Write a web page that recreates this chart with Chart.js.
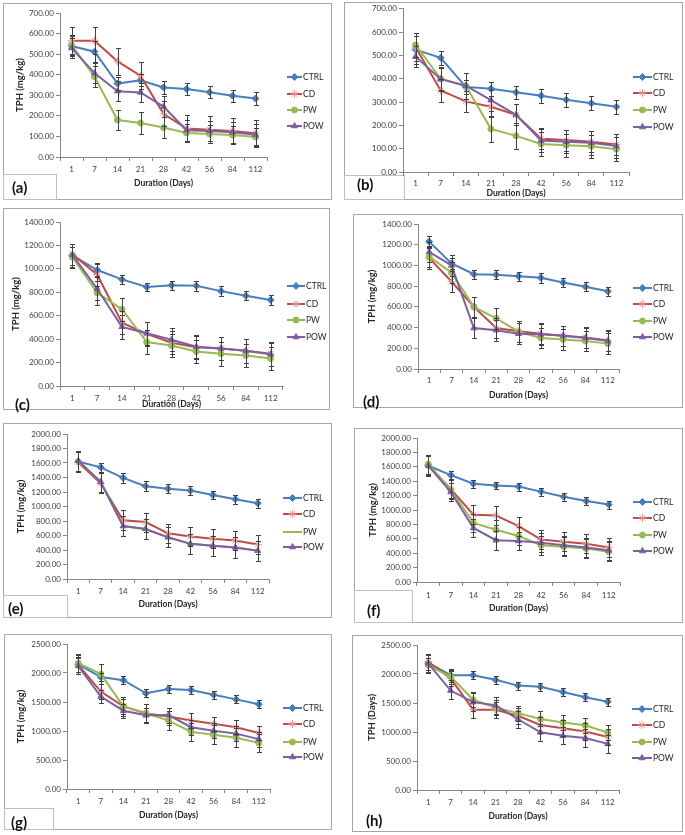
<!DOCTYPE html>
<html>
<head>
<meta charset="utf-8">
<script src="https://cdn.jsdelivr.net/npm/chart.js@4"></script>
<style>
body{margin:0;background:#fff;width:685px;height:835px;position:relative;overflow:hidden;font-family:Lato,"Open Sans",sans-serif;}
.box{position:absolute;border:1px solid #a6a6a6;box-sizing:border-box;}
.tag{position:absolute;border:1px solid #bfbfbf;box-sizing:border-box;}
.lbl{position:absolute;font-size:15px;font-weight:bold;color:#111;line-height:1;transform:translateY(-50%);}
canvas{position:absolute;}
</style>
</head>
<body>
<script>
const days = ["1", "7", "14", "21", "28", "42", "56", "84", "112"];
const seriesNames = ["CTRL", "CD", "PW", "POW"];

// (a)
const aCtrl = [540, 512, 357, 373, 338, 331, 315, 298, 284];
const aCd = [565, 565, 465, 395, 210, 138, 133, 127, 115];
const aPw = [545, 390, 180, 165, 143, 117, 112, 107, 97];
const aPow = [530, 408, 320, 314, 245, 130, 126, 120, 108];
const aCtrlErr = [50, 50, 30, 30, 30, 30, 30, 30, 30];
const aCdErr = [65, 65, 65, 65, 60, 65, 65, 65, 65];
const aPwErr = [50, 50, 50, 52, 50, 45, 45, 45, 45];
const aPowErr = [50, 50, 50, 45, 50, 50, 50, 50, 50];

// (b)
const bCtrl = [525, 490, 365, 357, 342, 327, 310, 295, 280];
const bCd = [535, 350, 303, 280, 245, 143, 137, 130, 118];
const bPw = [545, 400, 370, 185, 155, 120, 115, 110, 98];
const bPow = [495, 398, 370, 308, 245, 135, 130, 125, 112];
const bCtrlErr = [60, 30, 30, 30, 28, 30, 30, 30, 30];
const bCdErr = [60, 50, 45, 45, 45, 45, 45, 45, 45];
const bPwErr = [50, 50, 55, 55, 55, 50, 50, 50, 50];
const bPowErr = [45, 50, 55, 45, 45, 50, 50, 50, 50];

// (c)
const cCtrl = [1115, 990, 910, 845, 860, 855, 810, 770, 735];
const cCd = [1125, 950, 540, 445, 370, 330, 320, 300, 275];
const cPw = [1100, 795, 655, 375, 345, 295, 275, 260, 235];
const cPow = [1120, 830, 505, 450, 395, 335, 320, 300, 270];
const cCtrlErr = [100, 50, 40, 35, 40, 40, 40, 40, 40];
const cCdErr = [90, 100, 100, 100, 100, 100, 100, 100, 100];
const cPwErr = [90, 100, 100, 100, 100, 100, 100, 100, 100];
const cPowErr = [90, 100, 100, 100, 100, 100, 100, 100, 100];

// (d)
const dCtrl = [1230, 1020, 915, 910, 895, 880, 835, 795, 750];
const dCd = [1070, 845, 600, 395, 365, 340, 320, 305, 275];
const dPw = [1085, 930, 600, 490, 360, 300, 285, 270, 245];
const dPow = [1130, 1000, 395, 375, 340, 335, 320, 300, 270];
const dCtrlErr = [50, 50, 45, 45, 45, 45, 45, 45, 45];
const dCdErr = [100, 100, 100, 100, 100, 100, 100, 100, 100];
const dPwErr = [100, 100, 100, 100, 100, 100, 100, 100, 100];
const dPowErr = [100, 100, 100, 100, 100, 100, 100, 100, 100];

// (e) -- PW sits exactly under POW, no markers
const eCtrl = [1620, 1540, 1395, 1280, 1245, 1220, 1160, 1100, 1045];
const eCd = [1610, 1320, 810, 785, 630, 585, 555, 530, 475];
const ePw = [1630, 1340, 730, 690, 575, 485, 460, 435, 390];
const ePow = [1630, 1340, 730, 690, 575, 485, 460, 435, 390];
const eCtrlErr = [150, 65, 65, 65, 65, 60, 60, 65, 65];
const eCdErr = [140, 140, 140, 130, 130, 130, 130, 130, 130];
const ePwErr = [140, 140, 140, 140, 140, 140, 140, 140, 140];
const ePowErr = [140, 140, 140, 140, 140, 140, 140, 140, 140];

// (f)
const fCtrl = [1615, 1485, 1365, 1340, 1325, 1255, 1185, 1125, 1075];
const fCd = [1625, 1290, 935, 925, 775, 590, 560, 530, 480];
const fPw = [1635, 1280, 820, 725, 640, 510, 490, 465, 420];
const fPow = [1615, 1250, 750, 580, 570, 545, 510, 480, 440];
const fCtrlErr = [140, 55, 55, 55, 55, 55, 55, 55, 55];
const fCdErr = [130, 130, 130, 130, 130, 130, 130, 130, 130];
const fPwErr = [130, 130, 130, 130, 130, 130, 130, 130, 130];
const fPowErr = [130, 130, 130, 130, 130, 130, 130, 130, 130];

// (g)
const gCtrl = [2150, 1930, 1875, 1650, 1725, 1705, 1625, 1545, 1460];
const gCd = [2140, 1680, 1425, 1300, 1250, 1180, 1125, 1065, 965];
const gPw = [2170, 1980, 1425, 1310, 1180, 985, 935, 885, 795];
const gPow = [2120, 1595, 1350, 1270, 1275, 1065, 1005, 955, 860];
const gCtrlErr = [160, 70, 70, 70, 75, 70, 70, 70, 70];
const gCdErr = [130, 130, 130, 160, 140, 130, 120, 120, 120];
const gPwErr = [150, 170, 160, 160, 160, 160, 160, 160, 160];
const gPowErr = [130, 120, 120, 130, 130, 130, 130, 130, 130];

// (h)
const hCtrl = [2190, 1980, 1980, 1900, 1800, 1780, 1690, 1600, 1520];
const hCd = [2210, 1925, 1385, 1385, 1280, 1120, 1065, 1010, 915];
const hPw = [2150, 1955, 1555, 1420, 1325, 1225, 1165, 1115, 990];
const hPow = [2185, 1715, 1515, 1460, 1220, 995, 935, 895, 795];
const hCtrlErr = [150, 80, 70, 70, 70, 70, 70, 70, 70];
const hCdErr = [140, 140, 140, 140, 140, 140, 140, 140, 140];
const hPwErr = [130, 130, 130, 130, 130, 130, 130, 130, 130];
const hPowErr = [150, 150, 150, 150, 150, 150, 150, 150, 150];

const colors = ["#4a7ebb", "#be4b48", "#98b954", "#7d60a0"];
const markers = ["rectRot", "star", "circle", "triangle"];
const markerSize = [3.5, 4, 3, 3.5];
const markerEdge = ["#4a7ebb", "#e59a98", "#98b954", "#7d60a0"];
const axisCol = "#868686";
const fontFam = 'Lato, "Open Sans", sans-serif';
Chart.defaults.font.family = fontFam;

// box, plot area, text positions -- all page pixels
const panels = [
  { tag: "(a)", values: [aCtrl, aCd, aPw, aPow], errs: [aCtrlErr, aCdErr, aPwErr, aPowErr],
    max: 700, step: 100, yTitle: "TPH (mg/kg)",
    box: [3, 3, 332, 200], plot: [60, 13, 267, 157], xTickY: 169, xTitleY: 183, yTitleX: 20,
    leg: [287, 302, [77, 94, 110, 126]], tagBox: [3, 174, 57, 200], lbl: [12, 187] },
  { tag: "(b)", values: [bCtrl, bCd, bPw, bPow], errs: [bCtrlErr, bCdErr, bPwErr, bPowErr],
    max: 700, step: 100, yTitle: "",
    box: [344, 2, 683, 200], plot: [403, 8, 629, 172], xTickY: 183, xTitleY: 193, yTitleX: 360,
    leg: [633, 652, [77, 93, 110, 127]], tagBox: [344, 175, 405, 200], lbl: [357, 184] },
  { tag: "(c)", values: [cCtrl, cCd, cPw, cPow], errs: [cCtrlErr, cCdErr, cPwErr, cPowErr],
    max: 1400, step: 200, yTitle: "TPH (mg/kg)",
    box: [3, 208, 330, 410], plot: [60, 222, 283, 386], xTickY: 398, xTitleY: 404, yTitleX: 16,
    leg: [287, 305, [286, 304, 320, 337]], tagBox: null, lbl: [15, 404] },
  { tag: "(d)", values: [dCtrl, dCd, dPw, dPow], errs: [dCtrlErr, dCdErr, dPwErr, dPowErr],
    max: 1400, step: 200, yTitle: "TPH (mg/kg)",
    box: [353, 214, 683, 408], plot: [418, 224, 619, 369], xTickY: 380, xTitleY: 395, yTitleX: 372,
    leg: [633, 652, [288, 304, 321, 337]], tagBox: null, lbl: [363, 401] },
  { tag: "(e)", values: [eCtrl, eCd, ePw, ePow], errs: [eCtrlErr, eCdErr, ePwErr, ePowErr],
    max: 2000, step: 200, yTitle: "TPH (mg/kg)", noMarker: 2,
    box: [3, 423, 332, 618], plot: [67, 434, 269, 579], xTickY: 591, xTitleY: 604, yTitleX: 21,
    leg: [283, 302, [498, 514, 532, 547]], tagBox: [3, 595, 68, 618], lbl: [8, 608] },
  { tag: "(f)", values: [fCtrl, fCd, fPw, fPow], errs: [fCtrlErr, fCdErr, fPwErr, fPowErr],
    max: 2000, step: 200, yTitle: "TPH (mg/kg)",
    box: [354, 428, 683, 623], plot: [417, 438, 620, 582], xTickY: 595, xTitleY: 608, yTitleX: 373,
    leg: [633, 652, [502, 518, 535, 551]], tagBox: [354, 590, 413, 623], lbl: [367, 610] },
  { tag: "(g)", values: [gCtrl, gCd, gPw, gPow], errs: [gCtrlErr, gCdErr, gPwErr, gPowErr],
    max: 2500, step: 500, yTitle: "TPH (mg/kg)",
    box: [4, 634, 332, 830], plot: [67, 644, 270, 789], xTickY: 801, xTitleY: 815, yTitleX: 21,
    leg: [283, 302, [708, 724, 742, 757]], tagBox: [4, 808, 54, 830], lbl: [11, 822] },
  { tag: "(h)", values: [hCtrl, hCd, hPw, hPow], errs: [hCtrlErr, hCdErr, hPwErr, hPowErr],
    max: 2500, step: 500, yTitle: "TPH (Days)",
    box: [352, 635, 683, 832], plot: [417, 645, 619, 790], xTickY: 802, xTitleY: 816, yTitleX: 372,
    leg: [632, 652, [709, 725, 742, 758]], tagBox: null, lbl: [366, 820] }
];

const errorBars = {
  id: "errorBars",
  afterDatasetsDraw(chart) {
    const ctx = chart.ctx;
    const yScale = chart.scales.y;
    ctx.save();
    ctx.strokeStyle = "#404040";
    ctx.lineWidth = 1;
    chart.data.datasets.forEach((ds, i) => {
      const meta = chart.getDatasetMeta(i);
      meta.data.forEach((pt, j) => {
        const v = ds.data[j], e = ds.errors[j];
        const x = Math.round(pt.x) + 0.5;
        const y1 = Math.round(yScale.getPixelForValue(v + e)) + 0.5;
        const y2 = Math.round(yScale.getPixelForValue(v - e)) + 0.5;
        ctx.beginPath();
        ctx.moveTo(x, y1); ctx.lineTo(x, y2);
        ctx.moveTo(x - 2.5, y1); ctx.lineTo(x + 2.5, y1);
        ctx.moveTo(x - 2.5, y2); ctx.lineTo(x + 2.5, y2);
        ctx.stroke();
      });
    });
    ctx.restore();
  }
};

const lineLegend = {
  id: "lineLegend",
  afterDraw(chart, args, opts) {
    const ctx = chart.ctx;
    ctx.save();
    chart.data.datasets.forEach((ds, i) => {
      const y = opts.ys[i];
      ctx.strokeStyle = ds.borderColor;
      ctx.lineWidth = 2;
      ctx.beginPath();
      ctx.moveTo(opts.x1, y); ctx.lineTo(opts.x2, y);
      ctx.stroke();
      if (ds.pointRadius > 0) {
        ctx.fillStyle = ds.pointBackgroundColor;
        ctx.strokeStyle = ds.pointBorderColor;
        ctx.lineWidth = 1;
        Chart.helpers.drawPoint(ctx, { pointStyle: ds.pointStyle, radius: ds.pointRadius, borderWidth: 1, rotation: 0 }, (opts.x1 + opts.x2) / 2, y);
      }
      ctx.fillStyle = "#262626";
      ctx.font = "8.5px " + fontFam;
      ctx.textBaseline = "middle";
      ctx.fillText(ds.label, opts.x2 + 1, y);
    });
    ctx.restore();
  }
};

function addDiv(cls, l, t, r, b) {
  const d = document.createElement("div");
  d.className = cls;
  d.style.left = l + "px"; d.style.top = t + "px";
  d.style.width = (r - l) + "px"; d.style.height = (b - t) + "px";
  document.body.appendChild(d);
  return d;
}

function drawPanel(p) {
  const [L, T, R, B] = p.box;
  const [pl, pt, pr, pb] = p.plot;
  addDiv("box", L, T, R, B);
  if (p.tagBox) addDiv("tag", ...p.tagBox);

  const cv = document.createElement("canvas");
  cv.width = R - L; cv.height = B - T;
  cv.style.left = L + "px"; cv.style.top = T + "px";
  document.body.appendChild(cv);

  const lbl = document.createElement("div");
  lbl.className = "lbl";
  lbl.textContent = p.tag;
  lbl.style.left = p.lbl[0] + "px"; lbl.style.top = p.lbl[1] + "px";
  document.body.appendChild(lbl);

  new Chart(cv, {
    type: "line",
    data: {
      labels: days,
      datasets: seriesNames.map((name, i) => ({
        label: name,
        data: p.values[i],
        errors: p.errs[i],
        borderColor: colors[i],
        backgroundColor: colors[i],
        borderWidth: 2,
        pointStyle: markers[i],
        pointRadius: p.noMarker === i ? 0 : markerSize[i],
        pointBackgroundColor: colors[i],
        pointBorderColor: markerEdge[i],
        pointBorderWidth: 1,
        tension: 0,
        order: 4 - i
      }))
    },
    options: {
      responsive: false,
      animation: false,
      devicePixelRatio: 1,
      layout: { padding: { left: 0, top: pt - T, right: R - pr, bottom: 0 } },
      plugins: {
        legend: { display: false },
        tooltip: { enabled: false },
        lineLegend: { x1: p.leg[0] - L, x2: p.leg[1] - L, ys: p.leg[2].map(v => v - T) }
      },
      scales: {
        x: {
          offset: true,
          grid: { offset: true, drawOnChartArea: false, tickLength: 4, color: axisCol },
          border: { color: axisCol },
          ticks: { font: { size: 8 }, color: "#404040", padding: p.xTickY - pb - 8.8, maxRotation: 0, autoSkip: false },
          title: { display: true, text: "Duration (Days)", color: "#262626",
                   font: { size: 8.5, weight: "bold" }, padding: { top: 0, bottom: B - p.xTitleY - 5.1 } },
          afterFit: s => { s.height = B - pb; }
        },
        y: {
          min: 0, max: p.max,
          grid: { drawOnChartArea: false, tickLength: 4, color: axisCol },
          border: { color: axisCol },
          ticks: { stepSize: p.step, font: { size: 8 }, color: "#404040", padding: 2, callback: v => v.toFixed(2) },
          title: { display: p.yTitle !== "", text: p.yTitle, color: "#262626",
                   font: { size: 9.5, weight: "bold" }, padding: { top: p.yTitleX - L - 5.7, bottom: 0 } },
          afterFit: s => { s.width = pl - L; }
        }
      }
    },
    plugins: [errorBars, lineLegend]
  });
}

panels.forEach(drawPanel);
</script>
</body>
</html>
